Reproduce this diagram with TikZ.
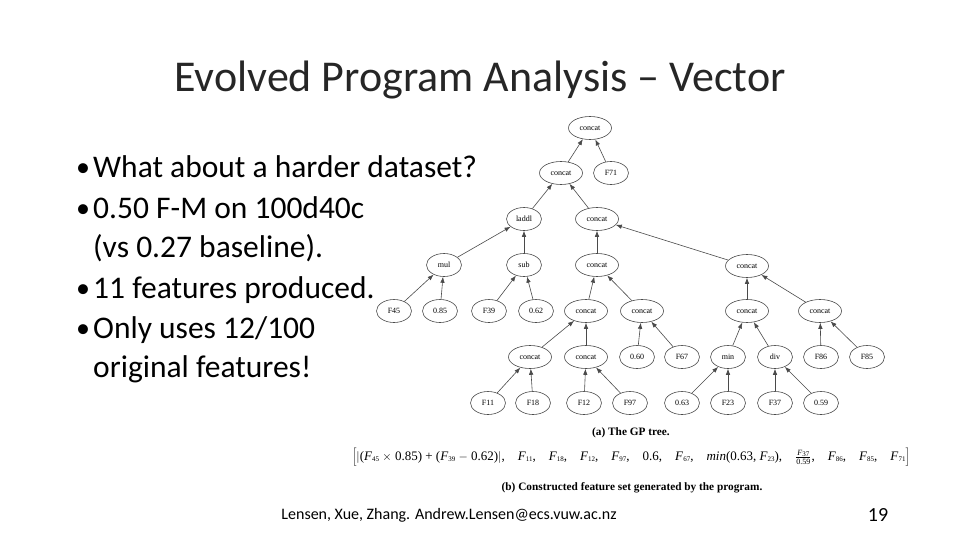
\documentclass[tikz,border=0pt]{standalone}
\usepackage{fontspec}
\setmainfont{Carlito}
\newfontfamily\tms{Liberation Serif}
\usetikzlibrary{arrows.meta,shapes.geometric}
\definecolor{edgegray}{HTML}{4A4A4A}
\newcommand{\Fv}[1]{\textit{F}{\scriptsize\raisebox{-0.35ex}{#1}}}
\tikzset{
  gp/.style={ellipse, draw=edgegray, line width=0.6pt, minimum width=35pt, minimum height=23pt, inner sep=0pt, text height=1.3ex, text depth=0.1ex, font=\tms\fontsize{8}{9}\selectfont},
  gpw/.style={gp, minimum width=43pt},
  arr/.style={draw=edgegray, line width=0.6pt, -{Latex[length=6pt,width=4.5pt]}},
  bul/.style={anchor=base west, font=\fontsize{31.5}{33}\selectfont, inner sep=0pt},
  buld/.style={anchor=base west, font=\fontsize{28}{30}\selectfont, inner sep=0pt}
}
\begin{document}
\begin{tikzpicture}[x=1pt,y=-1pt]
\useasboundingbox[fill=white] (0,0) rectangle (960,540);
% title
\node[font=\fontsize{44}{48}\selectfont, text=black!85] (title) at (480,80) {Evolved Program Analysis -- Vector};
% bullets
\node[buld] (b1d) at (76,177) {•};
\node[bul] (b1) at (93,178) {What about a harder dataset?};
\node[buld] (b2d) at (76,217) {•};
\node[bul] (b2) at (93,218) {0.50 F-M on 100d40c};
\node[bul] (b2b) at (93,257) {(vs 0.27 baseline).};
\node[buld] (b3d) at (76,297) {•};
\node[bul] (b3) at (93,298) {11 features produced.};
\node[buld] (b4d) at (76,337) {•};
\node[bul] (b4) at (93,338) {Only uses 12/100};
\node[bul] (b4b) at (93,377) {original features!};
% tree
\node[gpw] (r) at (590,128) {concat};
\node[gpw] (c2) at (561,173) {concat};
\node[gp] (f71) at (611,173) {F71};
\node[gp] (laddl) at (524,219) {laddl};
\node[gpw] (c3) at (597,219) {concat};
\node[gp] (mul) at (444,265) {mul};
\node[gp] (sub) at (524,265) {sub};
\node[gpw] (c4) at (597,265) {concat};
\node[gpw] (c5) at (747,266) {concat};
\node[gp] (f45) at (394,311) {F45};
\node[gp] (n085) at (440,311) {0.85};
\node[gp] (f39) at (489,311) {F39};
\node[gp] (n062) at (536,311) {0.62};
\node[gpw] (c5a) at (586,311) {concat};
\node[gpw] (c5b) at (642,311) {concat};
\node[gpw] (c5c) at (747,311) {concat};
\node[gpw] (c5d) at (820,311) {concat};
\node[gpw] (c6a) at (530,357) {concat};
\node[gpw] (c6b) at (586,357) {concat};
\node[gp] (n060) at (637,357) {0.60};
\node[gp] (f67) at (682,357) {F67};
\node[gp] (min) at (728,357) {min};
\node[gp] (div) at (775,357) {div};
\node[gp] (f86) at (821,357) {F86};
\node[gp] (f85) at (867,357) {F85};
\node[gp] (f11) at (488,403) {F11};
\node[gp] (f18) at (533,403) {F18};
\node[gp] (f12) at (584,403) {F12};
\node[gp] (f97) at (630,403) {F97};
\node[gp] (n063) at (682,403) {0.63};
\node[gp] (f23) at (728,403) {F23};
\node[gp] (f37) at (775,403) {F37};
\node[gp] (n059) at (821,403) {0.59};
\foreach \c/\p in {c2/r, f71/r, laddl/c2, c3/c2, mul/laddl, sub/laddl, c4/c3, c5/c3,
  f45/mul, n085/mul, f39/sub, n062/sub, c5a/c4, c5b/c4, c5c/c5, c5d/c5,
  c6a/c5a, c6b/c5a, n060/c5b, f67/c5b, min/c5c, div/c5c, f86/c5d, f85/c5d,
  f11/c6a, f18/c6a, f12/c6b, f97/c6b, n063/min, f23/min, f37/div, n059/div}
  \draw[arr] (\c) -- (\p);
% captions
\node[font=\tms\bfseries\fontsize{11.3}{12}\selectfont] (capa) at (631,433) {(a) The GP tree.};
\node[font=\tms\fontsize{13}{14}\selectfont] (formula) at (631,457) {$\Big[$$|$(\Fv{45} $\times$ 0.85) + (\Fv{39} $-$ 0.62)$|$,\quad \Fv{11},\quad \Fv{18},\quad \Fv{12},\quad \Fv{97},\quad 0.6,\quad \Fv{67},\quad \textit{min}(0.63, \Fv{23}),\quad $\frac{\hbox{\fontsize{8}{9}\selectfont\Fv{37}}}{\hbox{\fontsize{8}{9}\selectfont 0.59}}$,\quad \Fv{86},\quad \Fv{85},\quad \Fv{71}$\Big]$};
\node[font=\tms\bfseries\fontsize{11.3}{12}\selectfont] (capb) at (632,488) {(b) Constructed feature set generated by the program.};
% footer
\node[font=\fontsize{16}{18}\selectfont] (foot) at (449,515) {Lensen, Xue, Zhang. Andrew.Lensen@ecs.vuw.ac.nz};
\node[font=\fontsize{20}{22}\selectfont] (pg) at (878,515) {19};
\end{tikzpicture}
\end{document}
